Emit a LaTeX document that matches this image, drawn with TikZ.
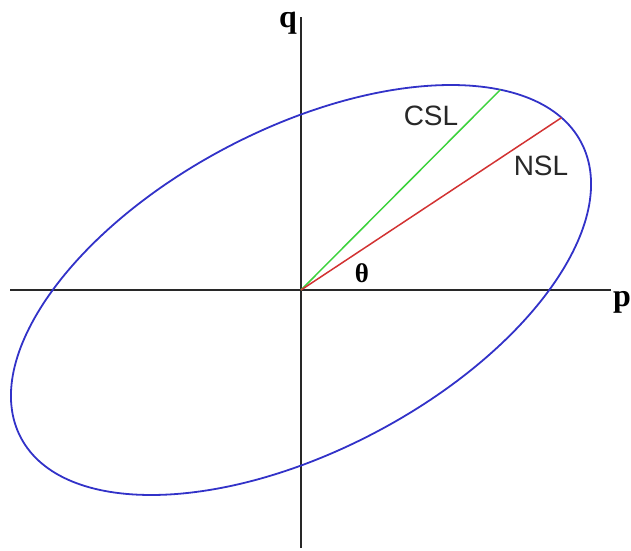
\documentclass[tikz,border=0pt]{standalone}
\usepackage{fontspec}
\setmainfont{Liberation Serif}
\newfontfamily\labelfont{Liberation Sans}
\definecolor{ellblue}{RGB}{50,50,200}
\definecolor{cslgreen}{RGB}{60,210,60}
\definecolor{nslred}{RGB}{210,50,50}
\definecolor{axisgray}{RGB}{40,40,40}
\tikzset{
  axisline/.style={draw=axisgray, line width=1.8pt},
  ellline/.style={draw=ellblue, line width=1.8pt},
  axislabel/.style={font=\fontsize{32}{32}\selectfont\bfseries, inner sep=0pt},
  anglelabel/.style={font=\fontsize{27}{27}\selectfont\bfseries, inner sep=0pt},
  linelabel/.style={font=\labelfont\fontsize{28}{28}\selectfont, text=axisgray, inner sep=0pt},
}
\begin{document}
\begin{tikzpicture}[x=1pt,y=1pt]
\useasboundingbox (0,0) rectangle (631,550);
\coordinate (O) at (301,260);
\coordinate (xl) at (10,260);
\coordinate (xr) at (611,260);
\coordinate (yt) at (301,533);
\coordinate (yb) at (301,2);
\draw[axisline] (xl) -- (xr);
\draw[axisline] (yb) -- (yt);
\begin{scope}[shift={(O)}, rotate=27.8]
  \draw[ellline] (0,0) ellipse [x radius=316.7, y radius=160.7];
  \coordinate (G) at ({316.7*cos(31.6)},{160.7*sin(31.6)});
  \coordinate (R) at ({316.7*cos(11.1)},{160.7*sin(11.1)});
\end{scope}
\draw[draw=cslgreen, line width=1.5pt] (O) -- (G);
\draw[draw=nslred, line width=1.5pt] (O) -- (R);
\node[axislabel] (q) at (288,527) {q};
\node[axislabel] (p) at (622,248) {p};
\node[anglelabel] (theta) at (362,277) {θ};
\node[linelabel] (csl) at (431,434) {CSL};
\node[linelabel] (nsl) at (541,384) {NSL};
\end{tikzpicture}
\end{document}
